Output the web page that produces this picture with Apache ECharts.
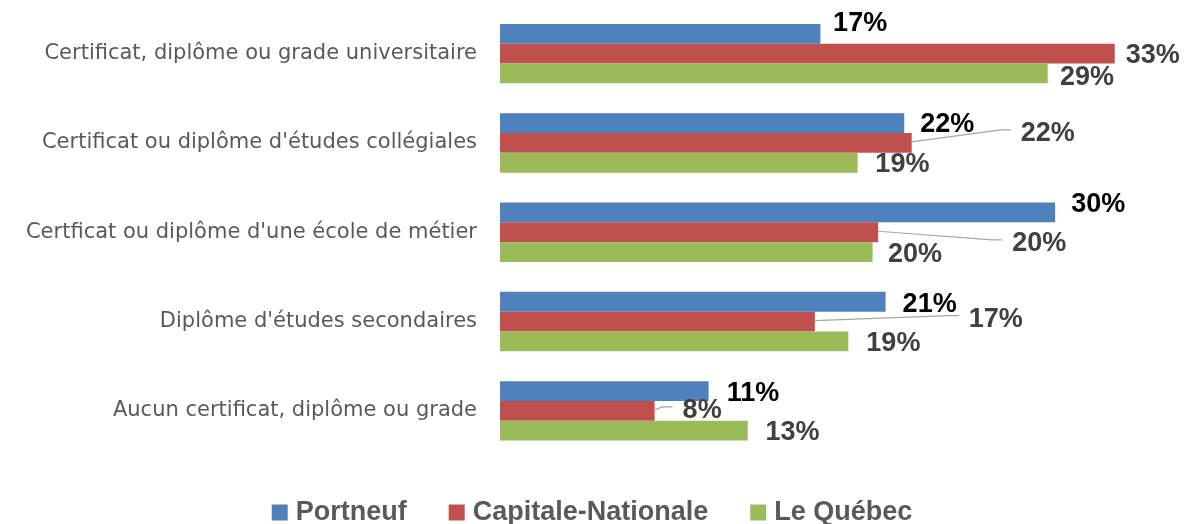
<!DOCTYPE html>
<html>
<head>
<meta charset="utf-8">
<script src="https://cdn.jsdelivr.net/npm/echarts@6/dist/echarts.min.js"></script>
<style>
html,body{margin:0;padding:0;background:#fff;}
#chart{width:1184px;height:524px;}
</style>
</head>
<body>
<div id="chart"></div>
<script>
// ---- data ----
var categories = [
  "Certificat, diplôme ou grade universitaire",
  "Certificat ou diplôme d'études collégiales",
  "Certficat ou diplôme d'une école de métier",
  "Diplôme d'études secondaires",
  "Aucun certificat, diplôme ou grade"
];
var seriesNames = ["Portneuf", "Capitale-Nationale", "Le Québec"];
var portneuf = [17.2, 21.7, 29.8, 20.7, 11.2];
var capitale = [33.0, 22.1, 20.3, 16.9, 8.3];
var quebec   = [29.4, 19.2, 20.0, 18.7, 13.3];

// ---- label placement (style, not data) ----
var portOffsets = [[12.7,-10],[16,1],[16,-7.5],[17,3],[18,2.6]];
var capOffsets  = [[11,1.7],[109,-9],[134,11.7],[154,-2],[28,0]];
var queOffsets  = [[12.3,4],[17.7,1.5],[15.5,2.8],[18,2],[17.8,2]];
var capLeader   = [false, true, true, true, true];

var colors = ["#4F81BD", "#C0504D", "#9BBB59"];
var labelColors = ["#000000", "#404040", "#404040"];

function buildData(values, offsets) {
  return values.map(function (v, i) {
    return { value: v, label: { offset: offsets[i] } };
  });
}

function makeSeries(idx, values, offsets) {
  return {
    name: seriesNames[idx],
    type: "bar",
    barWidth: 19.8,
    barGap: "0%",
    z: 2,
    itemStyle: { color: colors[idx] },
    label: {
      show: true,
      position: "right",
      distance: 0,
      color: labelColors[idx],
      fontFamily: "Liberation Sans",
      fontWeight: "bold",
      fontSize: 27,
      formatter: function (p) { return Math.round(p.value) + "%"; }
    },
    data: buildData(values, offsets),
    animation: false
  };
}

// leader lines for the Capitale-Nationale labels, positioned through the axes
var leaderData = [];
capitale.forEach(function (v, i) { if (capLeader[i]) leaderData.push([v, i]); });

var leaderSeries = {
  type: "custom",
  silent: true,
  z: 3,
  data: leaderData,
  renderItem: function (params, api) {
    var v = api.value(0), c = api.value(1);
    var p = api.coord([v, c]);
    var off = capOffsets[c];
    var lx = p[0] + off[0], ly = p[1] + off[1] - 4;
    return {
      type: "polyline",
      shape: { points: [[p[0], p[1] - 1], [lx - 20, ly], [lx - 10, ly]] },
      style: { stroke: "#A6A6A6", lineWidth: 1.2, fill: null }
    };
  },
  animation: false
};

var chart = echarts.init(document.getElementById("chart"), null, { renderer: "canvas" });
chart.setOption({
  animation: false,
  grid: { left: 500, right: 32, top: 9, height: 446.5, outerBoundsMode: "none" },
  legend: {
    top: 494,
    left: "center",
    itemWidth: 16,
    itemHeight: 16,
    itemGap: 42,
    icon: "rect",
    textStyle: {
      color: "#595959",
      fontFamily: "Liberation Sans",
      fontWeight: "bold",
      fontSize: 27,
      padding: [0, 0, 0, 3]
    },
    data: seriesNames
  },
  xAxis: {
    type: "value",
    min: 0,
    max: 35,
    show: false,
    splitLine: { show: false }
  },
  yAxis: {
    type: "category",
    inverse: true,
    data: categories,
    axisLine: { show: false },
    axisTick: { show: false },
    axisLabel: {
      margin: 23,
      color: "#595959",
      fontFamily: "DejaVu Sans",
      fontSize: 21
    }
  },
  series: [
    makeSeries(0, portneuf, portOffsets),
    makeSeries(1, capitale, capOffsets),
    makeSeries(2, quebec, queOffsets),
    leaderSeries
  ]
});
</script>
</body>
</html>
